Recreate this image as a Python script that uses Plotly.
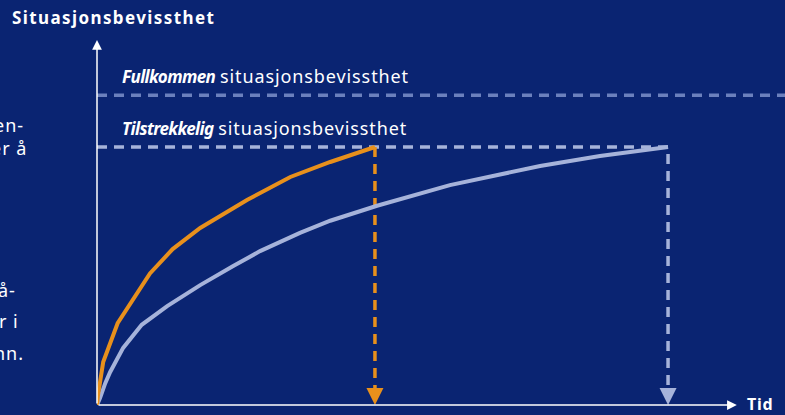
import plotly.graph_objects as go

# ---- data (time units, awareness units) ----
orange_t = [0, 0.15, 0.9, 3.0, 7.7, 11.0, 15.0, 21.8, 28.1, 33.9, 40.4]
orange_y = [0, 2.5, 10.6, 20.2, 32.5, 38.5, 43.7, 50.6, 56.3, 60.0, 63.7]

grey_t = [0, 0.44, 1.2, 1.9, 3.8, 6.5, 10.2, 15.0, 19.8, 23.7, 29.5, 33.9, 40.7, 51.3, 64.4, 73.1, 83.0]
grey_y = [0, 1.7, 5.4, 8.1, 14.1, 19.8, 24.4, 29.6, 34.3, 38.0, 42.5, 45.5, 49.2, 54.3, 59.0, 61.5, 63.7]

level_full = 76.5
level_sufficient = 63.7

y_label = "Situasjonsbevissthet"
x_label = "Tid"
full_bold = "Fullkommen"
suff_bold = "Tilstrekkelig"
level_rest = "situasjonsbevissthet"
side_lines = ["en-", "er å", "å-", "r i", "nn."]

BG = "#0a2472"
ORANGE = "#e8901c"
GREY = "#a6b3da"
FULLC = "#6b80bd"
FONT = "Noto Sans"

fig = go.Figure()

dash = "10px,7px"
fig.add_trace(go.Scatter(x=[0, 100], y=[level_full, level_full], mode="lines",
                         line=dict(color=FULLC, width=3.5, dash=dash), hoverinfo="skip"))
fig.add_trace(go.Scatter(x=[0, grey_t[-1], grey_t[-1]], y=[level_sufficient, level_sufficient, 4],
                         mode="lines", line=dict(color=GREY, width=3.5, dash=dash), hoverinfo="skip"))
fig.add_trace(go.Scatter(x=[orange_t[-1], orange_t[-1]], y=[orange_y[-1], 4],
                         mode="lines", line=dict(color=ORANGE, width=3.5, dash=dash), hoverinfo="skip"))
fig.add_trace(go.Scatter(x=grey_t, y=grey_y, mode="lines",
                         line=dict(color=GREY, width=4), hoverinfo="skip"))
fig.add_trace(go.Scatter(x=orange_t, y=orange_y, mode="lines",
                         line=dict(color=ORANGE, width=4), hoverinfo="skip"))
fig.add_trace(go.Scatter(x=[orange_t[-1], grey_t[-1]], y=[0, 0], mode="markers",
                         marker=dict(symbol="arrow-down", size=17, color=[ORANGE, GREY]),
                         cliponaxis=False, hoverinfo="skip"))


def styled(txt, style):
    return "<span style=\"%s\">%s</span>" % (style, txt)


def lvl(b):
    return (styled(b, "font-weight:bold;font-style:italic;font-size:17px;letter-spacing:-0.6px")
            + " " + styled(level_rest, "font-size:18px;letter-spacing:0.9px"))


annotations = [
    dict(x=0, y=90.1, ax=0, ay=0, xref="x", yref="y", axref="x", ayref="y", text="",
         showarrow=True, arrowhead=2, arrowsize=1.3, arrowwidth=1.5, arrowcolor="white"),
    dict(x=93.0, y=0, ax=0, ay=0, xref="x", yref="y", axref="x", ayref="y", text="",
         showarrow=True, arrowhead=2, arrowsize=1.3, arrowwidth=1.5, arrowcolor="white"),
    dict(x=(10 - 97) / 688, y=(405 - 18) / 405, xref="paper", yref="paper",
         text=styled(y_label, "font-weight:bold;letter-spacing:1.4px"),
         showarrow=False, xanchor="left", yanchor="middle", font=dict(size=17, color="white", family=FONT)),
    dict(x=1.0, y=0, xref="paper", yref="y", text=styled(x_label, "font-weight:bold;letter-spacing:0.8px"),
         showarrow=False, xanchor="right", yanchor="middle", xshift=-9, yshift=1,
         font=dict(size=16, color="white", family=FONT)),
    dict(x=3.3, y=level_full, xref="x", yref="y", text=lvl(full_bold), showarrow=False,
         xanchor="left", yanchor="bottom", yshift=5, font=dict(size=18, color="white", family=FONT)),
    dict(x=3.3, y=level_sufficient, xref="x", yref="y", text=lvl(suff_bold), showarrow=False,
         xanchor="left", yanchor="bottom", yshift=5, font=dict(size=18, color="white", family=FONT)),
]
side_pos = [(26, 125), (29, 148), (18, 290), (21, 321), (26, 353)]
for txt, (px, py) in zip(side_lines, side_pos):
    annotations.append(dict(x=(px - 97) / 688, y=1 - py / 405, xref="paper", yref="paper",
                            text=styled(txt, "letter-spacing:1px"),
                            showarrow=False, xanchor="right", yanchor="middle",
                            font=dict(size=18, color="white", family=FONT)))

fig.update_layout(
    width=785, height=415,
    margin=dict(l=97, r=0, t=0, b=10),
    paper_bgcolor=BG, plot_bgcolor=BG,
    showlegend=False,
    xaxis=dict(range=[0, 100], visible=False, fixedrange=True),
    yaxis=dict(range=[0, 100], visible=False, fixedrange=True),
    annotations=annotations,
)

fig.write_html("out.html")
